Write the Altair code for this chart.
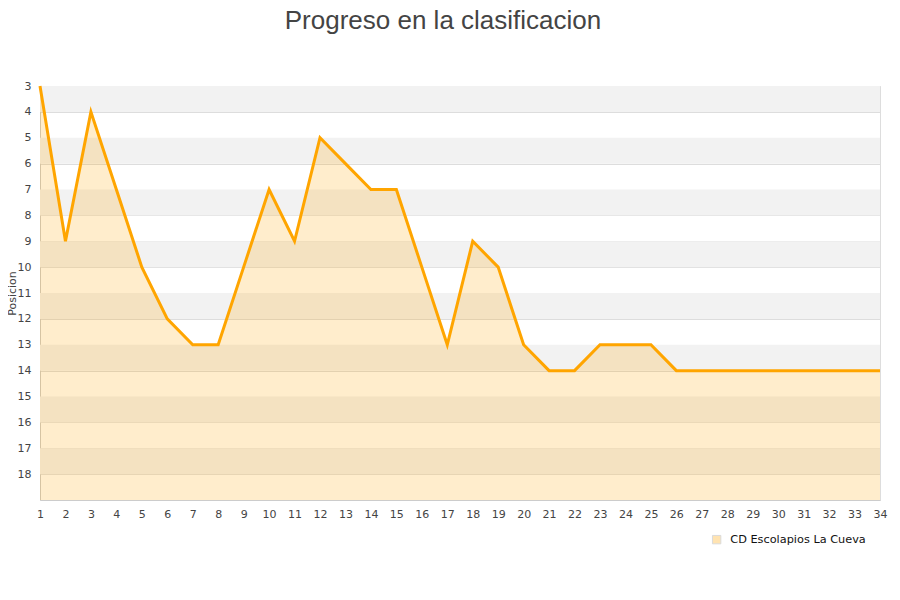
import altair as alt
import pandas as pd

jornadas = list(range(1, 35))
posiciones = [3, 9, 4, 7, 10, 12, 13, 13, 10, 7, 9, 5, 6, 7, 7, 10, 13, 9, 10, 13,
              14, 14, 13, 13, 13, 14, 14, 14, 14, 14, 14, 14, 14, 14]
equipo = "CD Escolapios La Cueva"
band_starts = [3, 5, 7, 9, 11, 13, 15, 17]
y_ticks = list(range(3, 19))

df = pd.DataFrame({"Jornada": jornadas, "Posicion": posiciones, "Equipo": [equipo] * len(jornadas)})
bands = pd.DataFrame({"y": band_starts, "y2": [b + 1 for b in band_starts]})

xscale = alt.Scale(domain=[1, 34], nice=False, zero=False)
yscale = alt.Scale(domain=[3, 19], reverse=True, nice=False, zero=False)

xaxis = alt.Axis(values=jornadas, title=None, grid=False, ticks=False,
                 labelColor="#444", labelFontSize=11, labelPadding=8,
                 labelOverlap=False, labelFlush=False,
                 domainColor="#ccc", labelFont="DejaVu Sans")
yaxis = alt.Axis(values=y_ticks, title="Posicion", grid=True, gridColor="#DDD",
                 ticks=False, labelColor="#444", labelFontSize=11, labelPadding=9,
                 labelOverlap=False, labelFlush=False,
                 domainColor="#ccc", titleFontSize=11, titleFontWeight="normal",
                 titleColor="#444", titleX=-23, titleY=207, titleAngle=270,
                 titleAlign="center", titleBaseline="bottom", labelFont="DejaVu Sans",
                 titleFont="DejaVu Sans")

band_layer = alt.Chart(bands).mark_rect(color="#F2F2F2").encode(
    y=alt.Y("y:Q", scale=yscale, axis=yaxis),
    y2="y2:Q",
)

area = alt.Chart(df).mark_area(fillOpacity=0.2, opacity=1).encode(
    x=alt.X("Jornada:Q", scale=xscale, axis=xaxis),
    y=alt.Y("Posicion:Q", scale=yscale, axis=yaxis),
    y2=alt.datum(19),
    fill=alt.Fill("Equipo:N", scale=alt.Scale(domain=[equipo], range=["#FFA500"]),
                  legend=alt.Legend(title=None, orient="none", legendX=671, legendY=448,
                                    symbolType="square", symbolSize=70,
                                    symbolStrokeColor="#888", symbolStrokeWidth=1,
                                    symbolOpacity=0.3, labelOffset=8,
                                    labelFontSize=11.3, labelColor="#111",
                                    labelFont="DejaVu Sans")),
)

line = alt.Chart(df).mark_line(color="#FFA500", strokeWidth=3).encode(
    x=alt.X("Jornada:Q", scale=xscale, axis=xaxis),
    y=alt.Y("Posicion:Q", scale=yscale, axis=yaxis),
)

chart = alt.layer(band_layer, area, line).properties(
    width=840,
    height=414,
    title=alt.TitleParams("Progreso en la clasificacion", fontSize=26, font="Liberation Sans",
                          fontWeight="normal", color="#444", offset=46, anchor="middle",
                          dx=-17),
    autosize=alt.AutoSizeParams(type="none"),
    padding={"left": 32, "top": 78, "right": 12, "bottom": 80},
).configure_view(stroke="#DDD").configure_axis(labelOverlap=False, labelFontSize=11)

chart.save("out.html", embed_options={"renderer": "svg", "actions": False})
